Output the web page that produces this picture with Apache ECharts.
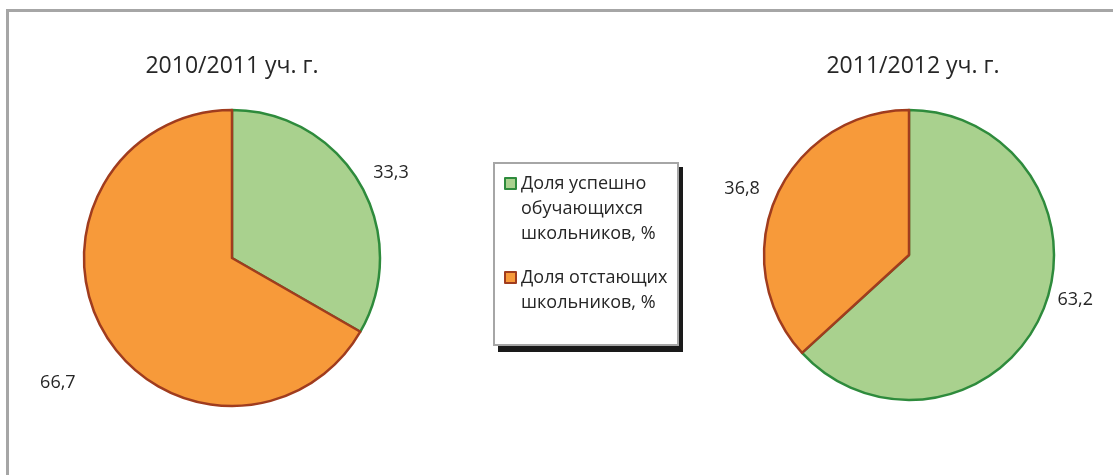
<!DOCTYPE html>
<html>
<head>
<meta charset="utf-8">
<script src="https://cdn.jsdelivr.net/npm/echarts@6/dist/echarts.min.js"></script>
<style>
html,body{margin:0;padding:0;background:#fff;}
#main{width:1113px;height:475px;}
</style>
</head>
<body>
<div id="main"></div>
<script>
// данные диаграммы
var categories = ['Доля успешно обучающихся школьников, %', 'Доля отстающих школьников, %'];
// пустые строки сверху - чтобы значок стоял у первой строки
var legendText = ['\n\nДоля успешно\nобучающихся\nшкольников, %', '\nДоля отстающих\nшкольников, %'];
var years = ['2010/2011 уч. г.', '2011/2012 уч. г.'];
var values2011 = [33.3, 66.7];
var values2012 = [63.2, 36.8];

var FILL = ['#a9d18e', '#f79a3a'];
var LINE = ['#2e8b3c', '#a03c1e'];
var FONT = 'Open Sans';

// подписи как в Excel: запятая вместо точки
function fmt(v){ return String(v.toFixed(1)).replace('.', ','); }

function pieData(vals, lines){
    var res = [];
    for(var i = 0; i < vals.length; i++){
        res.push({
            name: categories[i],
            value: vals[i],
            itemStyle: {color: FILL[i], borderColor: LINE[i], borderWidth: 2.5},
            labelLine: {show: false, length: lines[i][0], length2: lines[i][1]}
        });
    }
    return res;
}

function legendItem(idx, top){
    return {
        orient: 'vertical',
        left: 504,
        top: top,
        padding: 0,
        icon: 'rect',
        itemWidth: 11,
        itemHeight: 11,
        itemStyle: {borderWidth: 2},
        selectedMode: false,
        data: [categories[idx]],
        formatter: function(){ return legendText[idx]; },
        textStyle: {fontFamily: FONT, fontSize: 18, lineHeight: 25, color: '#262626'}
    };
}

var chart = echarts.init(document.getElementById('main'));
chart.setOption({
    backgroundColor: '#fff',
    animation: false,
    graphic: [
        {type: 'rect', left: 5, top: 8, shape: {width: 1200, height: 600},
         style: {fill: 'none', stroke: '#a6a6a6', lineWidth: 3}},
        // тень рамки легенды
        {type: 'rect', left: 498, top: 167, shape: {width: 185, height: 185}, z: -2,
         style: {fill: '#1a1a1a'}},
        {type: 'rect', left: 493, top: 162, shape: {width: 184, height: 182}, z: -1,
         style: {fill: '#fff', stroke: '#a6a6a6', lineWidth: 2}}
    ],
    title: [
        {text: years[0], left: 232, top: 55, textAlign: 'center', padding: 0,
         textStyle: {fontFamily: FONT, fontSize: 23, fontWeight: 'normal', color: '#262626'}},
        {text: years[1], left: 913, top: 55, textAlign: 'center', padding: 0,
         textStyle: {fontFamily: FONT, fontSize: 23, fontWeight: 'normal', color: '#262626'}}
    ],
    legend: [legendItem(0, 121), legendItem(1, 240)],
    series: [
        {
            type: 'pie',
            center: [232, 258],
            radius: 148,
            startAngle: 90,
            clockwise: true,
            avoidLabelOverlap: false,
            label: {show: true, position: 'outside', distanceToLabelLine: 0,
                     fontFamily: FONT, fontSize: 18, color: '#262626',
                     formatter: function(p){ return fmt(p.value); }},
            emphasis: {disabled: true},
            data: pieData(values2011, [[22, -6], [102, -60]])
        },
        {
            type: 'pie',
            center: [909, 255],
            radius: 145,
            startAngle: 90,
            clockwise: true,
            avoidLabelOverlap: false,
            label: {show: true, position: 'outside', distanceToLabelLine: 0,
                     fontFamily: FONT, fontSize: 18, color: '#262626',
                     formatter: function(p){ return fmt(p.value); }},
            emphasis: {disabled: true},
            data: pieData(values2012, [[-33, 46], [19, -1]])
        }
    ]
});
</script>
</body>
</html>
